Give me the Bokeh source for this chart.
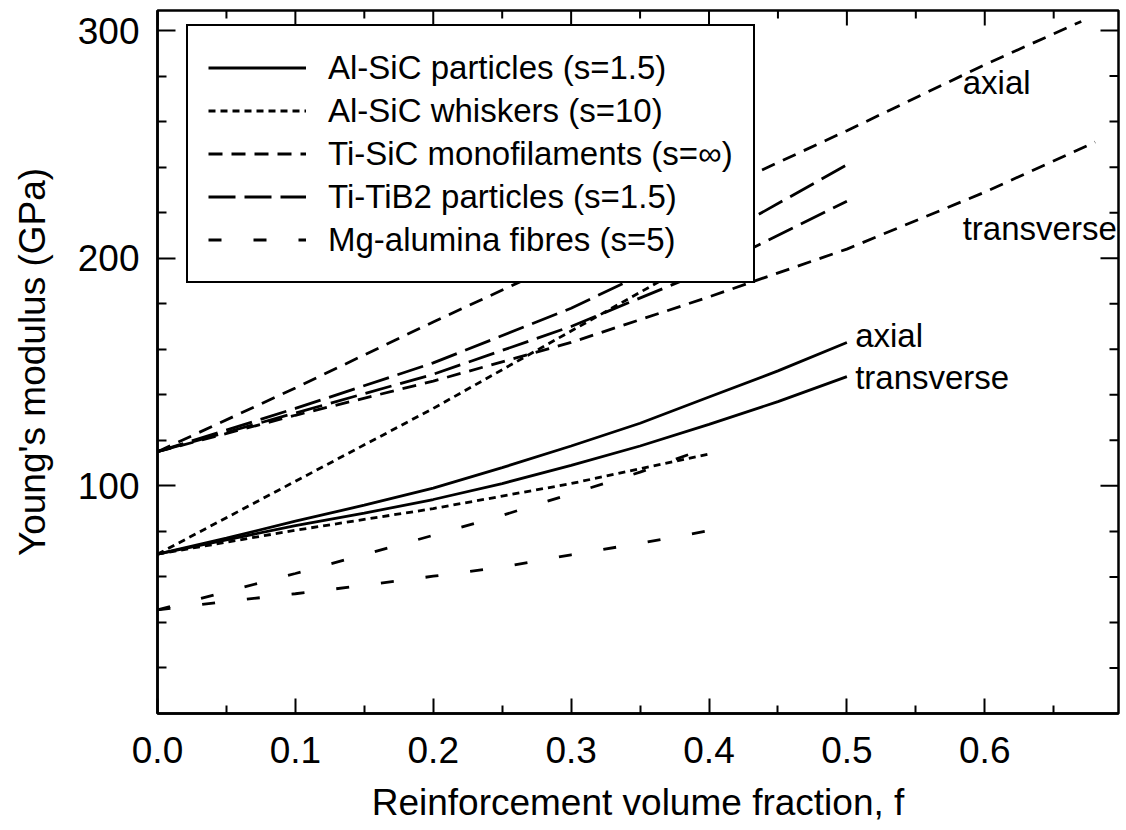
import math
from bokeh.plotting import figure
from bokeh.models import (Legend, LegendItem, Range1d, FixedTicker,
                          PrintfTickFormatter, ColumnDataSource)
from bokeh.core.properties import value
from bokeh.embed import file_html
from bokeh.resources import INLINE

# ---------------- data ----------------
f_al = [0.0, 0.05, 0.1, 0.15, 0.2, 0.25, 0.3, 0.35, 0.4, 0.45, 0.5]
al_sic_particles_axial = [70, 77, 84.5, 91.5, 99, 108, 117.5, 127.5, 139, 150.5, 163]
al_sic_particles_transverse = [70, 76.3, 82.5, 88, 94, 101, 109, 117.5, 127, 137, 148]

f_whisk = [0.0, 0.1, 0.2, 0.3, 0.4]
al_sic_whiskers_axial = [70, 102, 134, 168, 202]
al_sic_whiskers_transverse = [70, 80.5, 90, 101, 114]

f_tisic_ax = [0.0, 0.1, 0.2, 0.3, 0.4, 0.5, 0.6, 0.67]
ti_sic_axial = [115, 143, 172, 200, 228, 256, 285, 304]
f_tisic_tr = [0.0, 0.1, 0.2, 0.3, 0.4, 0.5, 0.6, 0.68]
ti_sic_transverse = [115, 131, 146, 163, 183, 204, 229, 251]

f_tib2 = [0.0, 0.1, 0.2, 0.3, 0.4, 0.5]
ti_tib2_axial = [115, 134, 154, 178, 207, 241]
ti_tib2_transverse = [115, 132, 149, 170, 195, 225]

f_mg = [0.0, 0.05, 0.1, 0.15, 0.2, 0.25, 0.3, 0.35, 0.4]
mg_alumina_axial = [45.5, 53.5, 61.5, 69.8, 78.3, 87, 96.5, 106, 117]
mg_alumina_transverse = [45.5, 49.2, 52.6, 56.3, 60.3, 64.3, 69.7, 74.8, 80.3]

legend_labels = ["Al-SiC particles (s=1.5)", "Al-SiC whiskers (s=10)",
                 "Ti-SiC monofilaments (s=\u221e)", "Ti-TiB2 particles (s=1.5)",
                 "Mg-alumina fibres (s=5)"]

ann_text = ["axial", "transverse", "axial", "transverse"]
ann_x = [0.584, 0.584, 0.506, 0.506]
ann_y = [277, 213, 166, 147.5]

x_major_ticks = [0.0, 0.1, 0.2, 0.3, 0.4, 0.5, 0.6]
x_minor_ticks = [0.05, 0.15, 0.25, 0.35, 0.45, 0.55, 0.65]
y_major_ticks = [100, 200, 300]
y_minor_ticks = [20, 40, 60, 80, 120, 140, 160, 180, 220, 240, 260, 280]

X_MAX = 0.697
Y_MAX = 308.8
FONT = "Liberation Sans"

p = figure(width=1124, height=828, x_range=Range1d(0, X_MAX), y_range=Range1d(0, Y_MAX),
           output_backend="svg", toolbar_location=None,
           min_border_left=157, min_border_right=6, min_border_top=10, min_border_bottom=115)
p.grid.visible = False
p.outline_line_color = "black"
p.outline_line_width = 2.5
p.background_fill_color = "white"
p.border_fill_color = "white"

def style_axis(ax, major_in, minor_in):
    ax.axis_line_color = "black"
    ax.axis_line_width = 2.5
    ax.major_tick_in = major_in
    ax.major_tick_out = 0
    ax.minor_tick_in = minor_in
    ax.minor_tick_out = 0
    ax.major_tick_line_width = 2
    ax.minor_tick_line_width = 2
    ax.major_tick_line_color = "black"
    ax.minor_tick_line_color = "black"
    ax.major_label_text_color = "black"
    ax.axis_label_text_color = "black"

xa = p.xaxis[0]
xa.ticker = FixedTicker(ticks=x_major_ticks, minor_ticks=x_minor_ticks)
xa.formatter = PrintfTickFormatter(format="%.1f")
style_axis(xa, 15, 8)
xa.major_label_text_font = FONT
xa.major_label_text_font_size = "37px"
xa.major_label_standoff = 23
xa.axis_label = "Reinforcement volume fraction, f"
xa.axis_label_text_font = FONT
xa.axis_label_text_font_style = "normal"
xa.axis_label_text_font_size = "37px"
xa.axis_label_standoff = 16

ya = p.yaxis[0]
ya.ticker = FixedTicker(ticks=y_major_ticks, minor_ticks=y_minor_ticks)
style_axis(ya, 18, 9)
ya.major_label_text_font = FONT
ya.major_label_text_font_size = "37px"
ya.major_label_standoff = 18
ya.axis_label = "Young's modulus (GPa)"
ya.axis_label_text_font = FONT
ya.axis_label_text_font_style = "normal"
ya.axis_label_text_font_size = "37px"
ya.axis_label_standoff = 22

# mirror tick marks on the top and right frame edges (dash markers, half clipped by the frame)
p.scatter(x=x_major_ticks, y=[Y_MAX] * len(x_major_ticks), marker="dash", angle=math.pi / 2,
          size=30, line_color="black", line_width=2)
p.scatter(x=x_minor_ticks, y=[Y_MAX] * len(x_minor_ticks), marker="dash", angle=math.pi / 2,
          size=16, line_color="black", line_width=2)
p.scatter(x=[X_MAX] * len(y_major_ticks), y=y_major_ticks, marker="dash",
          size=36, line_color="black", line_width=2)
p.scatter(x=[X_MAX] * len(y_minor_ticks), y=y_minor_ticks, marker="dash",
          size=18, line_color="black", line_width=2)

LW = 2.8
r_al_a = p.line(f_al, al_sic_particles_axial, line_color="black", line_width=LW)
r_al_t = p.line(f_al, al_sic_particles_transverse, line_color="black", line_width=LW)
r_w_a = p.line(f_whisk, al_sic_whiskers_axial, line_color="black", line_width=LW, line_dash="7 5")
r_w_t = p.line(f_whisk, al_sic_whiskers_transverse, line_color="black", line_width=LW, line_dash="7 5")
r_ts_a = p.line(f_tisic_ax, ti_sic_axial, line_color="black", line_width=LW, line_dash="14 9")
r_ts_t = p.line(f_tisic_tr, ti_sic_transverse, line_color="black", line_width=LW, line_dash="14 9")
r_tb_a = p.line(f_tib2, ti_tib2_axial, line_color="black", line_width=LW, line_dash="27 9")
r_tb_t = p.line(f_tib2, ti_tib2_transverse, line_color="black", line_width=LW, line_dash="27 9")
r_mg_a = p.line(f_mg, mg_alumina_axial, line_color="black", line_width=LW, line_dash="13 32")
r_mg_t = p.line(f_mg, mg_alumina_transverse, line_color="black", line_width=LW, line_dash="13 32")

src = ColumnDataSource(data=dict(x=ann_x, y=ann_y, t=ann_text))
p.text(x="x", y="y", text="t", source=src, text_font=value(FONT), text_font_size=value("33px"),
       text_baseline="middle", text_align="left", text_color="black")

items = [
    LegendItem(label=legend_labels[0], renderers=[r_al_a]),
    LegendItem(label=legend_labels[1], renderers=[r_w_a]),
    LegendItem(label=legend_labels[2], renderers=[r_ts_a]),
    LegendItem(label=legend_labels[3], renderers=[r_tb_a]),
    LegendItem(label=legend_labels[4], renderers=[r_mg_a]),
]
legend = Legend(items=items, location=(29, 430), border_line_color="black", border_line_width=2.5,
                border_line_alpha=1.0,
                background_fill_color="white", background_fill_alpha=1.0,
                label_text_font=FONT, label_text_font_size="33px", label_text_color="black",
                glyph_width=98, glyph_height=43, label_height=43, label_standoff=22,
                padding=20, spacing=0, margin=0)
p.add_layout(legend)

open("out.html", "w").write(file_html(p, INLINE))
